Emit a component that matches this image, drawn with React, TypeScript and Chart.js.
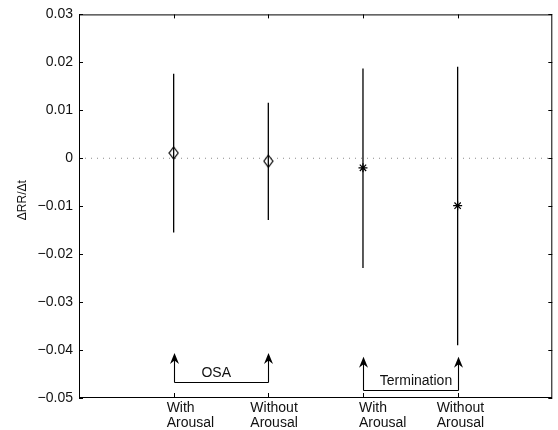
import React, { useEffect, useRef } from 'react';
import { Chart, registerables } from 'chart.js';

Chart.register(...registerables);

// ---------- data ----------
const categories: string[][] = [
  ['With', 'Arousal'],
  ['Without', 'Arousal'],
  ['With', 'Arousal'],
  ['Without', 'Arousal'],
];
const categoryX = [1, 2, 3, 4];
const means = [0.0011, -0.0006, -0.002, -0.0099];
const upper = [0.0176, 0.0116, 0.0187, 0.0191];
const lower = [-0.0155, -0.0129, -0.0229, -0.039];
const markerKinds = ['diamond', 'diamond', 'star', 'star'];

const xMin = 0;
const xMax = 5;
const yTickValues = [-0.05, -0.04, -0.03, -0.02, -0.01, 0, 0.01, 0.02, 0.03];
const yTickLabels = ['−0.05', '−0.04', '−0.03', '−0.02', '−0.01', '0', '0.01', '0.02', '0.03'];
const yTitle = 'ΔRR/Δt';

const groupLabels = ['OSA', 'Termination'];
const groupFrom = [1, 3];
const groupTo = [2, 4];
const groupBase = [-0.0466, -0.0483];
const groupTip = [-0.0406, -0.0414];
const groupTextX = [1.45, 3.56];
const groupTextY = [-0.0456, -0.0472];

// ---------- styles ----------
const FONT = '"Liberation Sans", Arial, Helvetica, sans-serif';
const INK = '#111';
const labelShift = [-7, -18, -4, -21];

function makeDiamond(): HTMLCanvasElement {
  const c = document.createElement('canvas');
  c.width = 11;
  c.height = 14;
  const g = c.getContext('2d')!;
  g.strokeStyle = '#000';
  g.lineWidth = 1.2;
  g.beginPath();
  g.moveTo(5.5, 1);
  g.lineTo(10, 7);
  g.lineTo(5.5, 13);
  g.lineTo(1, 7);
  g.closePath();
  g.stroke();
  return c;
}

function drawArrow(ctx: CanvasRenderingContext2D, x: number, yBase: number, yTip: number) {
  ctx.beginPath();
  ctx.moveTo(x, yBase);
  ctx.lineTo(x, yTip + 6);
  ctx.stroke();
  ctx.beginPath();
  ctx.moveTo(x, yTip);
  ctx.lineTo(x - 4.5, yTip + 11);
  ctx.lineTo(x, yTip + 7.5);
  ctx.lineTo(x + 4.5, yTip + 11);
  ctx.closePath();
  ctx.fill();
}

const framePlugin = {
  id: 'frame',
  afterDatasetsDraw(chart: any) {
    const { ctx, chartArea: a, scales } = chart;
    const x = scales.x;
    const y = scales.y;
    ctx.save();
    ctx.strokeStyle = '#000';
    ctx.fillStyle = '#000';
    ctx.lineWidth = 1;
    ctx.strokeRect(a.left + 0.5, a.top + 0.5, a.right - a.left - 1, a.bottom - a.top - 1);

    ctx.beginPath();
    yTickValues.forEach((v) => {
      const py = Math.round(y.getPixelForValue(v)) + 0.5;
      ctx.moveTo(a.left, py);
      ctx.lineTo(a.left + 4, py);
      ctx.moveTo(a.right, py);
      ctx.lineTo(a.right - 4, py);
    });
    categoryX.forEach((v) => {
      const px = Math.round(x.getPixelForValue(v)) + 0.5;
      ctx.moveTo(px, a.bottom);
      ctx.lineTo(px, a.bottom - 5);
      ctx.moveTo(px, a.top);
      ctx.lineTo(px, a.top + 4);
    });
    ctx.stroke();

    // category labels
    ctx.fillStyle = INK;
    ctx.font = `14px ${FONT}`;
    ctx.textAlign = 'left';
    ctx.textBaseline = 'alphabetic';
    categories.forEach((lines, i) => {
      const px = x.getPixelForValue(categoryX[i]) + labelShift[i];
      lines.forEach((t, j) => ctx.fillText(t, px, a.bottom + 14 + j * 15));
    });

    // group brackets and arrows
    ctx.fillStyle = '#000';
    ctx.lineWidth = 1.1;
    groupLabels.forEach((lab, i) => {
      const x1 = Math.round(x.getPixelForValue(groupFrom[i])) + 0.5;
      const x2 = Math.round(x.getPixelForValue(groupTo[i])) + 0.5;
      const yb = Math.round(y.getPixelForValue(groupBase[i])) + 0.5;
      const yt = y.getPixelForValue(groupTip[i]);
      ctx.beginPath();
      ctx.moveTo(x1, yb);
      ctx.lineTo(x2, yb);
      ctx.stroke();
      drawArrow(ctx, x1, yb, yt);
      drawArrow(ctx, x2, yb, yt);
      ctx.fillStyle = INK;
      ctx.textAlign = 'center';
      ctx.fillText(lab, x.getPixelForValue(groupTextX[i]), y.getPixelForValue(groupTextY[i]));
      ctx.fillStyle = '#000';
    });

    // y axis title
    ctx.save();
    ctx.translate(22.5, (a.top + a.bottom) / 2 - 6);
    ctx.rotate(-Math.PI / 2);
    ctx.font = `12px ${FONT}`;
    ctx.fillStyle = INK;
    ctx.textAlign = 'center';
    ctx.textBaseline = 'middle';
    ctx.fillText(yTitle, 0, 0);
    ctx.restore();

    ctx.restore();
  },
};

export default function App() {
  const ref = useRef<HTMLCanvasElement | null>(null);

  useEffect(() => {
    if (!ref.current) return;
    const diamond = makeDiamond();
    const pointStyles = markerKinds.map((k) => (k === 'diamond' ? diamond : 'star'));

    const errorSets = categoryX.map((cx, i) => ({
      type: 'scatter' as const,
      data: [
        { x: cx, y: lower[i] },
        { x: cx, y: upper[i] },
      ],
      showLine: true,
      borderColor: '#000',
      borderWidth: 1.3,
      pointRadius: 0,
      order: 1,
    }));

    const chart = new Chart(ref.current, {
      type: 'scatter',
      data: {
        datasets: [
          {
            data: categoryX.map((cx, i) => ({ x: cx, y: means[i] })),
            pointStyle: pointStyles as any,
            pointRadius: 4.5,
            borderColor: '#000',
            backgroundColor: 'rgba(0,0,0,0)',
            borderWidth: 1.2,
            order: 0,
          },
          ...errorSets,
          {
            data: [
              { x: xMin, y: 0 },
              { x: xMax, y: 0 },
            ],
            showLine: true,
            borderColor: '#8a8a8a',
            borderWidth: 1,
            borderDash: [1, 5],
            pointRadius: 0,
            order: 2,
          },
        ] as any,
      },
      options: {
        responsive: false,
        animation: false,
        events: [],
        layout: { padding: { top: 14, right: 1, left: 0, bottom: 0 } },
        plugins: { legend: { display: false }, tooltip: { enabled: false } },
        scales: {
          x: {
            type: 'linear',
            min: xMin,
            max: xMax,
            grid: { display: false },
            border: { display: false },
            ticks: { display: false },
            afterFit: (s: any) => {
              s.height = 32;
            },
          },
          y: {
            type: 'linear',
            min: yTickValues[0],
            max: yTickValues[yTickValues.length - 1],
            grid: { display: false, drawTicks: false },
            border: { display: false },
            afterBuildTicks: (s: any) => {
              s.ticks = yTickValues.map((v) => ({ value: v }));
            },
            ticks: {
              padding: 6,
              color: INK,
              font: { family: FONT, size: 14 },
              callback: (_v: any, i: number) => yTickLabels[i],
            },
            afterFit: (s: any) => {
              s.width = 79;
            },
          },
        },
      },
      plugins: [framePlugin],
    });
    return () => chart.destroy();
  }, []);

  return (
    <div style={{ position: 'fixed', left: 0, top: 0, width: 558, height: 430, background: '#fff' }}>
      <canvas ref={ref} width={558} height={430} style={{ display: 'block' }} />
    </div>
  );
}
